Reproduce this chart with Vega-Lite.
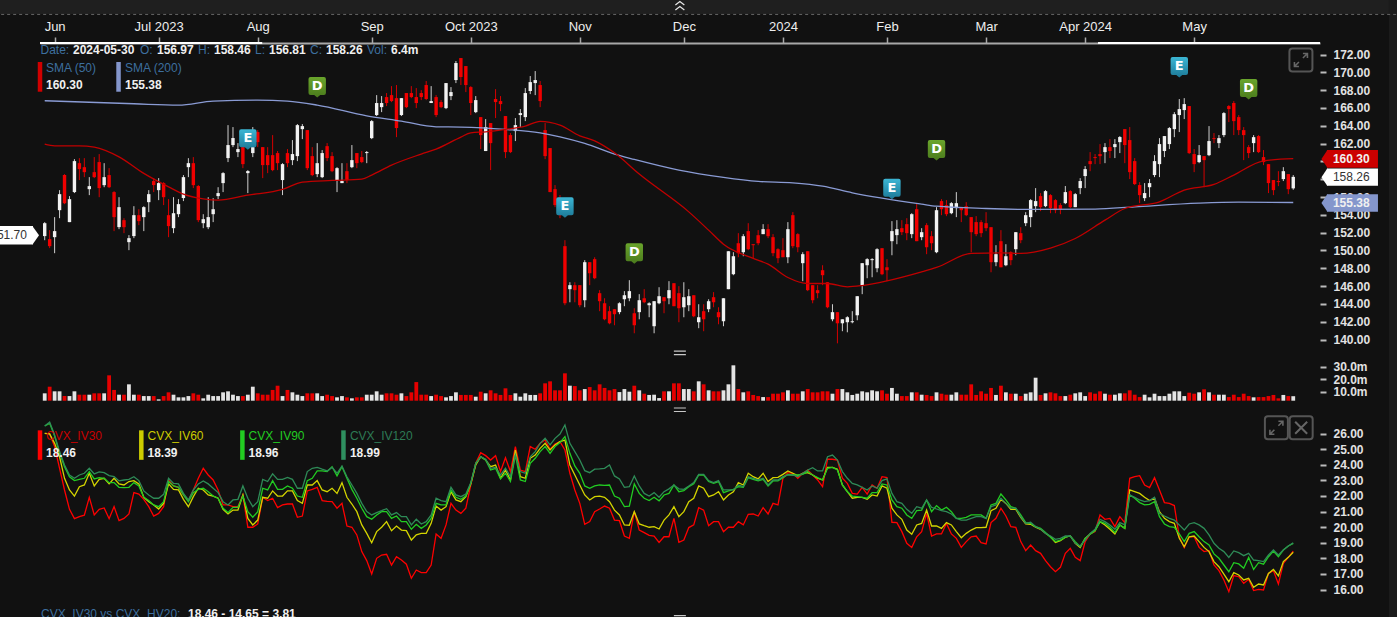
{"$schema":"https://vega.github.io/schema/vega-lite/v6.json","width":1397,"height":617,"padding":0,"autosize":{"type":"none"},"background":"#111111",
"config":{"view":{"stroke":null},"axis":{"grid":false,"title":null,"labelFont":"Liberation Sans"},"text":{"font":"Liberation Sans"}},
"data":{"name":"bars"},
"datasets":{"bars":[
{"i":0,"d":"2023-05-30","o":151.61,"h":153.18,"l":151.15,"c":153.06,"v":8.7,"iv30":26.01,"iv60":26.01,"iv90":26.48,"iv120":26.48},
{"i":1,"d":"2023-05-31","o":151.27,"h":152.28,"l":150.26,"c":150.48,"v":14,"iv30":25.97,"iv60":25.97,"iv90":26.65,"iv120":26.74},
{"i":2,"d":"2023-06-01","o":151.49,"h":153.74,"l":149.69,"c":152.17,"v":10.3,"iv30":25.16,"iv60":25.37,"iv90":25.84,"iv120":25.91},
{"i":3,"d":"2023-06-02","o":154.52,"h":156.77,"l":153.62,"c":156.32,"v":10.3,"iv30":23.77,"iv60":24.51,"iv90":24.73,"iv120":24.84},
{"i":4,"d":"2023-06-05","o":158.46,"h":158.57,"l":155.2,"c":155.31,"v":6.5,"iv30":22.38,"iv60":23.13,"iv90":23.87,"iv120":23.98},
{"i":5,"d":"2023-06-06","o":153.18,"h":156.1,"l":153.18,"c":155.76,"v":6.5,"iv30":21.14,"iv60":22.38,"iv90":23.23,"iv120":23.34},
{"i":6,"d":"2023-06-07","o":156.55,"h":160.25,"l":156.44,"c":160.03,"v":10.3,"iv30":20.54,"iv60":21.99,"iv90":22.98,"iv120":23.13},
{"i":7,"d":"2023-06-08","o":159.8,"h":160.36,"l":157.9,"c":159.13,"v":7.6,"iv30":20.67,"iv60":22.59,"iv90":23.06,"iv120":23.34},
{"i":8,"d":"2023-06-09","o":159.35,"h":160.36,"l":158.23,"c":158.79,"v":7.6,"iv30":20.76,"iv60":22.7,"iv90":23.13,"iv120":23.45},
{"i":9,"d":"2023-06-12","o":156.88,"h":158.23,"l":156.21,"c":157.22,"v":7.6,"iv30":21.91,"iv60":23.45,"iv90":23.56,"iv120":23.77},
{"i":10,"d":"2023-06-13","o":158.79,"h":160.48,"l":158.12,"c":158.23,"v":8.7,"iv30":20.78,"iv60":22.64,"iv90":23.09,"iv120":23.41},
{"i":11,"d":"2023-06-14","o":159.92,"h":160.82,"l":155.98,"c":157,"v":8.7,"iv30":21.14,"iv60":23.06,"iv90":23.17,"iv120":23.54},
{"i":12,"d":"2023-06-15","o":157.33,"h":159.8,"l":157.1,"c":158.23,"v":8.7,"iv30":21.23,"iv60":23.13,"iv90":23.13,"iv120":23.49},
{"i":13,"d":"2023-06-16","o":158.46,"h":159.24,"l":157,"c":157.1,"v":23.1,"iv30":20.54,"iv60":22.77,"iv90":22.85,"iv120":23.3},
{"i":14,"d":"2023-06-20","o":156.55,"h":156.66,"l":152.17,"c":153.74,"v":11.4,"iv30":21.31,"iv60":23.13,"iv90":22.85,"iv120":23.23},
{"i":15,"d":"2023-06-21","o":152.62,"h":155.98,"l":152.39,"c":154.86,"v":7.6,"iv30":20.41,"iv60":22.77,"iv90":22.55,"iv120":22.96},
{"i":16,"d":"2023-06-22","o":153.4,"h":153.62,"l":151.94,"c":152.61,"v":7.6,"iv30":20.56,"iv60":22.7,"iv90":22.53,"iv120":23.02},
{"i":17,"d":"2023-06-23","o":150.93,"h":151.72,"l":150.03,"c":151.38,"v":15.9,"iv30":20.84,"iv60":22.92,"iv90":22.55,"iv120":23.06},
{"i":18,"d":"2023-06-26","o":151.61,"h":154.97,"l":151.38,"c":153.96,"v":7.6,"iv30":22.21,"iv60":22.98,"iv90":22.85,"iv120":23.23},
{"i":19,"d":"2023-06-27","o":153.96,"h":154.63,"l":152.84,"c":153.29,"v":7.6,"iv30":22.12,"iv60":22.77,"iv90":22.64,"iv120":22.98},
{"i":20,"d":"2023-06-28","o":153.74,"h":154.97,"l":152.17,"c":154.86,"v":6.5,"iv30":21.78,"iv60":21.91,"iv90":21.91,"iv120":22.32},
{"i":21,"d":"2023-06-29","o":155.42,"h":156.77,"l":154.3,"c":156.32,"v":6.5,"iv30":21.31,"iv60":21.63,"iv90":21.7,"iv120":22.06},
{"i":22,"d":"2023-06-30","o":157.79,"h":158.12,"l":156.55,"c":157.34,"v":6.5,"iv30":20.71,"iv60":21.42,"iv90":21.42,"iv120":21.85},
{"i":23,"d":"2023-07-03","o":156.77,"h":158.12,"l":155.65,"c":157.56,"v":3.9,"iv30":20.88,"iv60":21.16,"iv90":21.31,"iv120":21.85},
{"i":24,"d":"2023-07-05","o":157.56,"h":157.67,"l":155.09,"c":155.98,"v":6.5,"iv30":21.31,"iv60":21.52,"iv90":21.63,"iv120":22.1},
{"i":25,"d":"2023-07-06","o":153.96,"h":155.76,"l":151.49,"c":152.73,"v":9.5,"iv30":23.02,"iv60":22.77,"iv90":22.92,"iv120":23.13},
{"i":26,"d":"2023-07-07","o":152.5,"h":155.98,"l":151.94,"c":154.18,"v":7.6,"iv30":22.64,"iv60":22.42,"iv90":22.64,"iv120":22.8},
{"i":27,"d":"2023-07-10","o":154.07,"h":155.76,"l":153.74,"c":155.2,"v":5.5,"iv30":22.55,"iv60":22.38,"iv90":22.55,"iv120":22.77},
{"i":28,"d":"2023-07-11","o":155.88,"h":158.46,"l":155.54,"c":158.23,"v":5.5,"iv30":22.06,"iv60":21.78,"iv90":22.06,"iv120":22.16},
{"i":29,"d":"2023-07-12","o":159.35,"h":160.36,"l":158.23,"c":159.8,"v":6.5,"iv30":21.7,"iv60":21.31,"iv90":21.63,"iv120":21.74},
{"i":30,"d":"2023-07-13","o":159.8,"h":160.48,"l":157,"c":157.33,"v":8.7,"iv30":22.38,"iv60":21.95,"iv90":22.21,"iv120":22.38},
{"i":31,"d":"2023-07-14","o":157.23,"h":157.34,"l":153.18,"c":153.4,"v":7.6,"iv30":23.13,"iv60":22.49,"iv90":22.42,"iv120":22.77},
{"i":32,"d":"2023-07-17","o":153.06,"h":154.07,"l":152.5,"c":153.51,"v":4.7,"iv30":23.77,"iv60":22.38,"iv90":22.49,"iv120":22.96},
{"i":33,"d":"2023-07-18","o":152.61,"h":155.98,"l":152.39,"c":153.74,"v":7.6,"iv30":23.34,"iv60":22.06,"iv90":22.27,"iv120":22.77},
{"i":34,"d":"2023-07-19","o":154.07,"h":155.87,"l":153.18,"c":154.63,"v":6.5,"iv30":23.02,"iv60":21.99,"iv90":21.99,"iv120":22.49},
{"i":35,"d":"2023-07-20","o":156.1,"h":157.1,"l":155.76,"c":156.44,"v":6.5,"iv30":22.38,"iv60":21.85,"iv90":21.85,"iv120":22.21},
{"i":36,"d":"2023-07-21","o":157.56,"h":158.79,"l":156.55,"c":158.68,"v":9.5,"iv30":21.42,"iv60":21.14,"iv90":21.21,"iv120":21.63},
{"i":37,"d":"2023-07-24","o":160.37,"h":164.07,"l":159.92,"c":161.83,"v":10.3,"iv30":21.42,"iv60":20.84,"iv90":20.93,"iv120":21.42},
{"i":38,"d":"2023-07-25","o":161.83,"h":163.85,"l":161.6,"c":162.62,"v":7.6,"iv30":21.31,"iv60":21.09,"iv90":21.27,"iv120":21.74},
{"i":39,"d":"2023-07-26","o":161.04,"h":162.05,"l":160.48,"c":161.38,"v":6.5,"iv30":21.31,"iv60":21.09,"iv90":21.27,"iv120":21.78},
{"i":40,"d":"2023-07-27","o":161.6,"h":161.83,"l":159.24,"c":159.69,"v":6.5,"iv30":22.06,"iv60":22.06,"iv90":21.99,"iv120":22.64},
{"i":41,"d":"2023-07-28","o":158.68,"h":159.02,"l":156.44,"c":158.91,"v":7.6,"iv30":19.99,"iv60":20.56,"iv90":20.99,"iv120":21.85},
{"i":42,"d":"2023-07-31","o":160.93,"h":163.85,"l":160.48,"c":161.6,"v":14,"iv30":19.99,"iv60":20.14,"iv90":20.63,"iv120":21.31},
{"i":43,"d":"2023-08-01","o":163.29,"h":163.51,"l":161.6,"c":162.16,"v":8.7,"iv30":20.2,"iv60":20.45,"iv90":20.99,"iv120":21.63},
{"i":44,"d":"2023-08-02","o":161.6,"h":161.6,"l":158.12,"c":159.58,"v":7.6,"iv30":21.91,"iv60":21.91,"iv90":22.49,"iv120":23.06},
{"i":45,"d":"2023-08-03","o":160.7,"h":161.6,"l":158.68,"c":159.58,"v":7.6,"iv30":21.7,"iv60":21.85,"iv90":22.38,"iv120":22.92},
{"i":46,"d":"2023-08-04","o":160.7,"h":162.95,"l":158.9,"c":159.02,"v":11.4,"iv30":21.85,"iv60":22.32,"iv90":22.98,"iv120":23.41},
{"i":47,"d":"2023-08-07","o":160.93,"h":161.16,"l":159.02,"c":159.8,"v":14.8,"iv30":21.25,"iv60":21.99,"iv90":22.42,"iv120":23.06},
{"i":48,"d":"2023-08-08","o":157.9,"h":159.8,"l":156.21,"c":159.69,"v":6.5,"iv30":21.42,"iv60":21.99,"iv90":22.42,"iv120":23.06},
{"i":49,"d":"2023-08-09","o":160.93,"h":161.38,"l":159.35,"c":159.8,"v":11.4,"iv30":21.48,"iv60":22.32,"iv90":22.64,"iv120":23.19},
{"i":50,"d":"2023-08-10","o":160.14,"h":162.39,"l":159.58,"c":160.82,"v":9.5,"iv30":21.48,"iv60":22.32,"iv90":22.49,"iv120":23.06},
{"i":51,"d":"2023-08-11","o":160.59,"h":164.19,"l":160.03,"c":164.07,"v":7.6,"iv30":20.63,"iv60":21.7,"iv90":21.99,"iv120":22.49},
{"i":52,"d":"2023-08-14","o":163.62,"h":164.19,"l":162.5,"c":163.96,"v":6.5,"iv30":20.71,"iv60":21.52,"iv90":21.91,"iv120":22.49},
{"i":53,"d":"2023-08-15","o":163.51,"h":163.51,"l":159.02,"c":159.24,"v":8.7,"iv30":22.32,"iv60":22.7,"iv90":22.98,"iv120":23.56},
{"i":54,"d":"2023-08-16","o":160.59,"h":161.6,"l":158.34,"c":158.46,"v":8.7,"iv30":22.42,"iv60":22.7,"iv90":23.13,"iv120":23.77},
{"i":55,"d":"2023-08-17","o":158.57,"h":162.05,"l":158.23,"c":159.8,"v":8.7,"iv30":22.55,"iv60":22.98,"iv90":23.6,"iv120":23.83},
{"i":56,"d":"2023-08-18","o":158.23,"h":161.27,"l":158.12,"c":160.93,"v":6.5,"iv30":21.7,"iv60":22.38,"iv90":23.6,"iv120":23.71},
{"i":57,"d":"2023-08-21","o":161.71,"h":162.05,"l":160.03,"c":160.37,"v":7.6,"iv30":21.65,"iv60":22.27,"iv90":23.56,"iv120":23.6},
{"i":58,"d":"2023-08-22","o":160.59,"h":161.04,"l":158.79,"c":158.9,"v":6.5,"iv30":21.63,"iv60":22.49,"iv90":23.87,"iv120":23.83},
{"i":59,"d":"2023-08-23","o":157.9,"h":159.35,"l":156.55,"c":159.24,"v":5.5,"iv30":21.21,"iv60":22.16,"iv90":23.28,"iv120":23.45},
{"i":60,"d":"2023-08-24","o":157.56,"h":159.8,"l":157.56,"c":157.79,"v":6.5,"iv30":21.52,"iv60":22.85,"iv90":23.87,"iv120":23.92},
{"i":61,"d":"2023-08-25","o":158.9,"h":159.8,"l":157.56,"c":157.9,"v":5.5,"iv30":20.07,"iv60":21.91,"iv90":23.13,"iv120":23.23},
{"i":62,"d":"2023-08-28","o":159.35,"h":161.83,"l":159.24,"c":160.14,"v":4.7,"iv30":19.99,"iv60":21.48,"iv90":22.42,"iv120":22.7},
{"i":63,"d":"2023-08-29","o":160.93,"h":160.93,"l":159.24,"c":159.8,"v":5.5,"iv30":19.5,"iv60":20.99,"iv90":21.85,"iv120":22.16},
{"i":64,"d":"2023-08-30","o":160.48,"h":161.16,"l":159.8,"c":159.92,"v":5.5,"iv30":18.43,"iv60":20.14,"iv90":21.21,"iv120":21.52},
{"i":65,"d":"2023-08-31","o":160.93,"h":161.16,"l":159.8,"c":161.04,"v":7.6,"iv30":17.85,"iv60":19.6,"iv90":20.67,"iv120":20.99},
{"i":66,"d":"2023-09-01","o":162.61,"h":164.64,"l":162.5,"c":164.52,"v":7.6,"iv30":16.99,"iv60":19,"iv90":20.5,"iv120":20.78},
{"i":67,"d":"2023-09-05","o":165.2,"h":167.44,"l":165.09,"c":166.55,"v":10.3,"iv30":18,"iv60":19.71,"iv90":20.78,"iv120":20.93},
{"i":68,"d":"2023-09-06","o":166.09,"h":167.33,"l":165.53,"c":166.55,"v":7.6,"iv30":18.21,"iv60":19.99,"iv90":20.99,"iv120":21.05},
{"i":69,"d":"2023-09-07","o":167.22,"h":167.67,"l":166.21,"c":166.55,"v":8.7,"iv30":18.26,"iv60":20.35,"iv90":20.99,"iv120":21.18},
{"i":70,"d":"2023-09-08","o":167.44,"h":168.45,"l":166.65,"c":166.77,"v":8.7,"iv30":17.57,"iv60":19.77,"iv90":20.56,"iv120":20.78},
{"i":71,"d":"2023-09-11","o":167.1,"h":168.57,"l":162.72,"c":163.74,"v":7.6,"iv30":18.1,"iv60":20.07,"iv90":20.71,"iv120":20.93},
{"i":72,"d":"2023-09-12","o":165.2,"h":167.1,"l":165.09,"c":167.1,"v":8.7,"iv30":17.89,"iv60":19.81,"iv90":20.35,"iv120":20.67},
{"i":73,"d":"2023-09-13","o":167.67,"h":167.67,"l":165.98,"c":166.09,"v":6.5,"iv30":17.62,"iv60":19.77,"iv90":20.35,"iv120":20.67},
{"i":74,"d":"2023-09-14","o":167.67,"h":168.45,"l":167.1,"c":167.22,"v":9.5,"iv30":16.72,"iv60":19.17,"iv90":19.86,"iv120":20.14},
{"i":75,"d":"2023-09-15","o":167.22,"h":168.23,"l":165.98,"c":166.55,"v":17.7,"iv30":17.25,"iv60":19.5,"iv90":20.18,"iv120":20.5},
{"i":76,"d":"2023-09-18","o":167.67,"h":168,"l":166.88,"c":167.22,"v":7.6,"iv30":17.08,"iv60":19.6,"iv90":19.92,"iv120":20.2},
{"i":77,"d":"2023-09-19","o":168.57,"h":169.02,"l":166.88,"c":167,"v":7.6,"iv30":17.08,"iv60":19.6,"iv90":20.14,"iv120":20.35},
{"i":78,"d":"2023-09-20","o":166.55,"h":168.45,"l":166.55,"c":166.77,"v":6.5,"iv30":17.57,"iv60":20.24,"iv90":20.56,"iv120":20.78},
{"i":79,"d":"2023-09-21","o":167.22,"h":167.44,"l":164.97,"c":165.2,"v":7.6,"iv30":19.56,"iv60":21.35,"iv90":21.52,"iv120":21.85},
{"i":80,"d":"2023-09-22","o":166.66,"h":166.88,"l":165.98,"c":166.09,"v":6.5,"iv30":19.28,"iv60":21.09,"iv90":21.42,"iv120":21.7},
{"i":81,"d":"2023-09-25","o":165.98,"h":168.79,"l":165.87,"c":168.79,"v":5.5,"iv30":20.14,"iv60":21.31,"iv90":21.42,"iv120":21.63},
{"i":82,"d":"2023-09-26","o":167.33,"h":168.34,"l":166.88,"c":167.78,"v":6.5,"iv30":21.52,"iv60":22.27,"iv90":22.38,"iv120":22.55},
{"i":83,"d":"2023-09-27","o":169.13,"h":171.27,"l":168.79,"c":171.04,"v":9.5,"iv30":21.09,"iv60":21.74,"iv90":21.91,"iv120":22.06},
{"i":84,"d":"2023-09-28","o":171.6,"h":171.6,"l":168.57,"c":169.47,"v":7.4,"iv30":20.88,"iv60":21.63,"iv90":21.78,"iv120":21.95},
{"i":85,"d":"2023-09-29","o":170.7,"h":170.7,"l":167.78,"c":168.57,"v":7.4,"iv30":21.21,"iv60":21.95,"iv90":21.99,"iv120":22.12},
{"i":86,"d":"2023-10-02","o":168.34,"h":168.45,"l":165.2,"c":166.55,"v":7.4,"iv30":22.7,"iv60":22.77,"iv90":22.8,"iv120":22.85},
{"i":87,"d":"2023-10-03","o":165.53,"h":167.33,"l":165.42,"c":166.88,"v":6,"iv30":24.09,"iv60":23.98,"iv90":24.09,"iv120":24.09},
{"i":88,"d":"2023-10-04","o":164.97,"h":164.97,"l":161.38,"c":162.95,"v":10,"iv30":24.77,"iv60":24.51,"iv90":24.51,"iv120":24.51},
{"i":89,"d":"2023-10-05","o":161.16,"h":164.75,"l":161.16,"c":163.85,"v":8.7,"iv30":24.58,"iv60":24.3,"iv90":24.3,"iv120":24.35},
{"i":90,"d":"2023-10-06","o":164.3,"h":164.3,"l":159.02,"c":162.05,"v":11.1,"iv30":24.3,"iv60":23.87,"iv90":23.66,"iv120":23.77},
{"i":91,"d":"2023-10-09","o":167,"h":168.11,"l":164.86,"c":166.66,"v":8.7,"iv30":24.58,"iv60":23.98,"iv90":23.77,"iv120":23.83},
{"i":92,"d":"2023-10-10","o":166.77,"h":167.33,"l":165.64,"c":166.43,"v":7.4,"iv30":23.56,"iv60":23.13,"iv90":23.09,"iv120":23.34},
{"i":93,"d":"2023-10-11","o":165.09,"h":165.09,"l":160.37,"c":161.04,"v":12.7,"iv30":24.45,"iv60":23.66,"iv90":23.45,"iv120":23.77},
{"i":94,"d":"2023-10-12","o":162.95,"h":163.18,"l":160.93,"c":161.04,"v":7.4,"iv30":23.56,"iv60":23.02,"iv90":22.92,"iv120":23.23},
{"i":95,"d":"2023-10-13","o":163.4,"h":164.86,"l":162.28,"c":164.07,"v":8.7,"iv30":25.16,"iv60":24.94,"iv90":24.62,"iv120":24.62},
{"i":96,"d":"2023-10-16","o":165.2,"h":165.87,"l":163.85,"c":165.42,"v":6,"iv30":23.66,"iv60":23.23,"iv90":23.02,"iv120":23.56},
{"i":97,"d":"2023-10-17","o":164.97,"h":168.23,"l":164.52,"c":167.67,"v":8.7,"iv30":23.56,"iv60":23.13,"iv90":22.92,"iv120":23.45},
{"i":98,"d":"2023-10-18","o":167.9,"h":169.58,"l":167.55,"c":168.9,"v":7.4,"iv30":25.16,"iv60":24.41,"iv90":24.09,"iv120":24.51},
{"i":99,"d":"2023-10-19","o":168.79,"h":170.14,"l":167.44,"c":169.13,"v":7.4,"iv30":24.99,"iv60":24.62,"iv90":24.41,"iv120":24.84},
{"i":100,"d":"2023-10-20","o":168.57,"h":169.02,"l":166.09,"c":166.77,"v":8.7,"iv30":25.37,"iv60":25.05,"iv90":24.84,"iv120":25.37},
{"i":101,"d":"2023-10-23","o":163.51,"h":164.3,"l":160.25,"c":160.59,"v":16.7,"iv30":25.58,"iv60":25.37,"iv90":25.16,"iv120":25.69},
{"i":102,"d":"2023-10-24","o":161.49,"h":161.49,"l":156.55,"c":156.55,"v":18.3,"iv30":24.99,"iv60":24.94,"iv90":24.73,"iv120":25.27},
{"i":103,"d":"2023-10-25","o":156.88,"h":157.34,"l":154.86,"c":155.09,"v":11.1,"iv30":25.33,"iv60":25.27,"iv90":25.16,"iv120":25.69},
{"i":104,"d":"2023-10-26","o":155.65,"h":156.21,"l":153.62,"c":153.96,"v":11.1,"iv30":25.48,"iv60":25.48,"iv90":25.42,"iv120":25.97},
{"i":105,"d":"2023-10-27","o":150.48,"h":151.15,"l":143.85,"c":144.07,"v":24.7,"iv30":24.94,"iv60":25.58,"iv90":25.8,"iv120":26.55},
{"i":106,"d":"2023-10-30","o":145.65,"h":146.43,"l":144.18,"c":146.1,"v":14.8,"iv30":23.45,"iv60":23.98,"iv90":24.73,"iv120":25.37},
{"i":107,"d":"2023-10-31","o":146.1,"h":146.43,"l":144.18,"c":145.54,"v":14.5,"iv30":22.38,"iv60":23.34,"iv90":23.92,"iv120":24.84},
{"i":108,"d":"2023-11-01","o":146.1,"h":146.1,"l":143.62,"c":143.85,"v":11.1,"iv30":21.52,"iv60":22.7,"iv90":23.45,"iv120":24.3},
{"i":109,"d":"2023-11-02","o":144.41,"h":148.91,"l":143.62,"c":148.68,"v":12.1,"iv30":20.18,"iv60":22.06,"iv90":22.64,"iv120":23.62},
{"i":110,"d":"2023-11-03","o":148.68,"h":148.68,"l":146.1,"c":147.44,"v":13.7,"iv30":20.35,"iv60":21.74,"iv90":22.49,"iv120":23.49},
{"i":111,"d":"2023-11-06","o":149.02,"h":149.24,"l":146.77,"c":146.88,"v":11.1,"iv30":20.99,"iv60":21.95,"iv90":22.64,"iv120":23.71},
{"i":112,"d":"2023-11-07","o":145.2,"h":145.54,"l":143.18,"c":144.3,"v":15.9,"iv30":21.16,"iv60":21.99,"iv90":22.7,"iv120":23.73},
{"i":113,"d":"2023-11-08","o":144.07,"h":144.63,"l":142.16,"c":142.27,"v":13,"iv30":21.35,"iv60":21.91,"iv90":22.68,"iv120":23.77},
{"i":114,"d":"2023-11-09","o":143.18,"h":143.74,"l":141.71,"c":141.82,"v":11.1,"iv30":21.21,"iv60":21.63,"iv90":22.7,"iv120":23.98},
{"i":115,"d":"2023-11-10","o":143.4,"h":143.4,"l":141.6,"c":142.84,"v":12.1,"iv30":20.45,"iv60":21.09,"iv90":21.99,"iv120":23.28},
{"i":116,"d":"2023-11-13","o":143.07,"h":144.18,"l":142.84,"c":144.07,"v":9.7,"iv30":20.41,"iv60":20.78,"iv90":21.85,"iv120":23.09},
{"i":117,"d":"2023-11-14","o":144.52,"h":145.43,"l":143.74,"c":144.97,"v":12.1,"iv30":19.43,"iv60":20.14,"iv90":21.31,"iv120":22.55},
{"i":118,"d":"2023-11-15","o":144.63,"h":146.66,"l":144.3,"c":145.43,"v":10,"iv30":19.28,"iv60":20.12,"iv90":21.35,"iv120":22.59},
{"i":119,"d":"2023-11-16","o":142.95,"h":143.51,"l":140.7,"c":141.6,"v":14.8,"iv30":20.99,"iv60":20.99,"iv90":22.77,"iv120":23.28},
{"i":120,"d":"2023-11-17","o":143.07,"h":145.09,"l":142.27,"c":144.41,"v":11.1,"iv30":19.81,"iv60":20.2,"iv90":22.16,"iv120":22.64},
{"i":121,"d":"2023-11-20","o":144.63,"h":145.65,"l":144.07,"c":144.18,"v":8.4,"iv30":19.65,"iv60":20.09,"iv90":21.85,"iv120":22.16},
{"i":122,"d":"2023-11-21","o":143.85,"h":144.18,"l":142.5,"c":144.07,"v":7.4,"iv30":19.47,"iv60":19.99,"iv90":21.7,"iv120":21.99},
{"i":123,"d":"2023-11-22","o":141.49,"h":144.3,"l":140.7,"c":144.3,"v":7.6,"iv30":19.43,"iv60":20.03,"iv90":21.91,"iv120":22.21},
{"i":124,"d":"2023-11-24","o":144.07,"h":145.87,"l":143.96,"c":144.86,"v":4.9,"iv30":19.02,"iv60":19.88,"iv90":21.68,"iv120":21.91},
{"i":125,"d":"2023-11-27","o":144.75,"h":144.75,"l":142.95,"c":144.3,"v":10.3,"iv30":19.38,"iv60":20.45,"iv90":22.06,"iv120":22.27},
{"i":126,"d":"2023-11-28","o":144.63,"h":146.55,"l":143.96,"c":145.54,"v":10.3,"iv30":19.38,"iv60":20.78,"iv90":22.16,"iv120":22.45},
{"i":127,"d":"2023-11-29","o":146.32,"h":146.32,"l":143.74,"c":143.74,"v":16.7,"iv30":20.56,"iv60":21.31,"iv90":22.7,"iv120":22.7},
{"i":128,"d":"2023-11-30","o":145.2,"h":145.99,"l":141.94,"c":143.51,"v":16.7,"iv30":19.02,"iv60":20.67,"iv90":22.27,"iv120":22.45},
{"i":129,"d":"2023-12-01","o":143.62,"h":146.43,"l":142.5,"c":144.75,"v":12.1,"iv30":19.17,"iv60":20.99,"iv90":22.34,"iv120":22.42},
{"i":130,"d":"2023-12-04","o":143.85,"h":145.65,"l":143.18,"c":144.86,"v":12.1,"iv30":19.97,"iv60":21.63,"iv90":22.59,"iv120":22.64},
{"i":131,"d":"2023-12-05","o":144.97,"h":144.97,"l":142.5,"c":142.61,"v":10.3,"iv30":20.14,"iv60":21.85,"iv90":22.77,"iv120":22.85},
{"i":132,"d":"2023-12-06","o":141.94,"h":143.96,"l":141.27,"c":142.5,"v":18.3,"iv30":21.25,"iv60":22.64,"iv90":23.34,"iv120":23.38},
{"i":133,"d":"2023-12-07","o":143.18,"h":143.96,"l":140.93,"c":142.27,"v":15.9,"iv30":21.09,"iv60":22.49,"iv90":23.34,"iv120":23.38},
{"i":134,"d":"2023-12-08","o":143.4,"h":144.52,"l":143.07,"c":144.3,"v":11.1,"iv30":20.09,"iv60":21.95,"iv90":22.92,"iv120":22.98},
{"i":135,"d":"2023-12-11","o":144.75,"h":145.32,"l":143.62,"c":144.18,"v":10.3,"iv30":20.35,"iv60":22.06,"iv90":22.8,"iv120":22.85},
{"i":136,"d":"2023-12-12","o":143.07,"h":143.62,"l":141.71,"c":142.5,"v":10.3,"iv30":20.35,"iv60":22.27,"iv90":22.92,"iv120":22.98},
{"i":137,"d":"2023-12-13","o":142.05,"h":144.63,"l":141.49,"c":144.63,"v":11.1,"iv30":19.71,"iv60":21.74,"iv90":22.21,"iv120":22.38},
{"i":138,"d":"2023-12-14","o":145.65,"h":149.91,"l":145.65,"c":149.91,"v":15.9,"iv30":19.99,"iv60":22.06,"iv90":22.32,"iv120":22.38},
{"i":139,"d":"2023-12-15","o":147.33,"h":149.8,"l":147.22,"c":149.35,"v":31.1,"iv30":19.99,"iv60":22.27,"iv90":22.42,"iv120":22.38},
{"i":140,"d":"2023-12-18","o":150.81,"h":151.94,"l":149.24,"c":149.69,"v":12.1,"iv30":20.35,"iv60":22.85,"iv90":22.59,"iv120":22.7},
{"i":141,"d":"2023-12-19","o":149.8,"h":151.83,"l":149.35,"c":151.6,"v":9.5,"iv30":20.14,"iv60":22.7,"iv90":22.55,"iv120":22.59},
{"i":142,"d":"2023-12-20","o":152.17,"h":153.06,"l":150.03,"c":150.14,"v":10.3,"iv30":20.82,"iv60":23.45,"iv90":23.17,"iv120":23.23},
{"i":143,"d":"2023-12-21","o":150.7,"h":150.7,"l":149.13,"c":150.59,"v":7.4,"iv30":20.84,"iv60":23.23,"iv90":23.06,"iv120":23.13},
{"i":144,"d":"2023-12-22","o":151.71,"h":152.28,"l":150.59,"c":150.81,"v":6.5,"iv30":20.71,"iv60":23.09,"iv90":22.96,"iv120":23.02},
{"i":145,"d":"2023-12-26","o":151.83,"h":152.95,"l":151.83,"c":152.39,"v":5.7,"iv30":21.25,"iv60":23.45,"iv90":23.06,"iv120":23.13},
{"i":146,"d":"2023-12-27","o":152.39,"h":152.95,"l":151.38,"c":151.6,"v":5.7,"iv30":20.84,"iv60":22.92,"iv90":22.64,"iv120":22.7},
{"i":147,"d":"2023-12-28","o":151.49,"h":151.83,"l":149.35,"c":149.69,"v":8.4,"iv30":21.52,"iv60":23.17,"iv90":22.96,"iv120":23.02},
{"i":148,"d":"2023-12-29","o":150.14,"h":150.25,"l":148.57,"c":149.13,"v":8.4,"iv30":21.42,"iv60":23.19,"iv90":22.96,"iv120":23.02},
{"i":149,"d":"2024-01-02","o":150.03,"h":151.38,"l":149.24,"c":149.24,"v":9.5,"iv30":23.13,"iv60":23.38,"iv90":23.17,"iv120":23.23},
{"i":150,"d":"2024-01-03","o":149.24,"h":153.18,"l":148.57,"c":152.39,"v":11.1,"iv30":23.49,"iv60":23.6,"iv90":23.38,"iv120":23.34},
{"i":151,"d":"2024-01-04","o":153.96,"h":154.3,"l":150.25,"c":150.48,"v":8.4,"iv30":23.45,"iv60":23.45,"iv90":23.34,"iv120":23.34},
{"i":152,"d":"2024-01-05","o":151.83,"h":151.94,"l":149.8,"c":150.36,"v":8.4,"iv30":23.13,"iv60":23.3,"iv90":23.34,"iv120":23.23},
{"i":153,"d":"2024-01-08","o":148.57,"h":149.8,"l":146.55,"c":149.58,"v":10.3,"iv30":23.45,"iv60":23.45,"iv90":23.38,"iv120":23.45},
{"i":154,"d":"2024-01-09","o":149.91,"h":149.91,"l":145.43,"c":145.54,"v":12.1,"iv30":23.66,"iv60":23.49,"iv90":23.56,"iv120":23.66},
{"i":155,"d":"2024-01-10","o":146.1,"h":146.1,"l":144.07,"c":144.41,"v":9.5,"iv30":23.34,"iv60":23.34,"iv90":23.34,"iv120":23.81},
{"i":156,"d":"2024-01-11","o":145.54,"h":146.1,"l":144.63,"c":145.2,"v":9.5,"iv30":23.02,"iv60":23.13,"iv90":23.17,"iv120":23.6},
{"i":157,"d":"2024-01-12","o":147.78,"h":148.34,"l":146.1,"c":147.22,"v":10.3,"iv30":22.59,"iv60":23.02,"iv90":23.02,"iv120":23.6},
{"i":158,"d":"2024-01-16","o":146.43,"h":146.43,"l":143.51,"c":143.62,"v":10.3,"iv30":24.35,"iv60":23.83,"iv90":23.77,"iv120":24.51},
{"i":159,"d":"2024-01-17","o":142.27,"h":143.96,"l":142.05,"c":143.07,"v":8.4,"iv30":24.35,"iv60":23.83,"iv90":23.83,"iv120":24.62},
{"i":160,"d":"2024-01-18","o":143.07,"h":143.07,"l":139.57,"c":141.82,"v":12.1,"iv30":24.3,"iv60":23.71,"iv90":23.66,"iv120":24.3},
{"i":161,"d":"2024-01-19","o":141.82,"h":142.27,"l":140.93,"c":142.27,"v":12.1,"iv30":23.13,"iv60":22.7,"iv90":22.7,"iv120":23.56},
{"i":162,"d":"2024-01-22","o":141.94,"h":142.61,"l":140.81,"c":142.5,"v":9.5,"iv30":22.8,"iv60":22.27,"iv90":22.27,"iv120":23.13},
{"i":163,"d":"2024-01-23","o":141.94,"h":143.18,"l":141.82,"c":142.05,"v":7.4,"iv30":22.16,"iv60":21.85,"iv90":21.99,"iv120":22.8},
{"i":164,"d":"2024-01-24","o":142.72,"h":144.86,"l":142.16,"c":144.86,"v":8.4,"iv30":22.12,"iv60":21.91,"iv90":21.95,"iv120":22.7},
{"i":165,"d":"2024-01-25","o":146.1,"h":148.57,"l":145.09,"c":148.57,"v":10.3,"iv30":22.55,"iv60":21.91,"iv90":21.91,"iv120":22.55},
{"i":166,"d":"2024-01-26","o":148.34,"h":149.13,"l":146.88,"c":149.02,"v":9.5,"iv30":22.12,"iv60":21.78,"iv90":21.85,"iv120":22.38},
{"i":167,"d":"2024-01-29","o":148.91,"h":149.13,"l":146.99,"c":149.02,"v":11.1,"iv30":22.7,"iv60":22.06,"iv90":22.21,"iv120":22.64},
{"i":168,"d":"2024-01-30","o":148,"h":150.25,"l":147.55,"c":150.14,"v":10.3,"iv30":22.49,"iv60":21.99,"iv90":22.21,"iv120":22.49},
{"i":169,"d":"2024-01-31","o":150.25,"h":150.25,"l":147.22,"c":147.33,"v":11.1,"iv30":23.23,"iv60":22.64,"iv90":22.77,"iv120":22.98},
{"i":170,"d":"2024-02-01","o":148.11,"h":149.02,"l":146.55,"c":147.78,"v":8.4,"iv30":23.17,"iv60":22.49,"iv90":22.7,"iv120":23.09},
{"i":171,"d":"2024-02-02","o":151.04,"h":153.29,"l":149.46,"c":152.17,"v":13,"iv30":20.31,"iv60":21.21,"iv90":21.74,"iv120":22.16},
{"i":172,"d":"2024-02-05","o":151.72,"h":153.4,"l":150.7,"c":152.39,"v":8.4,"iv30":20.29,"iv60":20.78,"iv90":21.31,"iv120":21.63},
{"i":173,"d":"2024-02-06","o":152.5,"h":153.4,"l":151.72,"c":152.05,"v":6.5,"iv30":19.71,"iv60":20.5,"iv90":21.21,"iv120":21.52},
{"i":174,"d":"2024-02-07","o":152.95,"h":153.62,"l":151.15,"c":151.94,"v":6.5,"iv30":18.96,"iv60":19.81,"iv90":20.78,"iv120":21.14},
{"i":175,"d":"2024-02-08","o":151.83,"h":154.18,"l":151.38,"c":154.07,"v":9.5,"iv30":18.7,"iv60":19.54,"iv90":20.56,"iv120":20.88},
{"i":176,"d":"2024-02-09","o":154.63,"h":155.31,"l":151.04,"c":151.04,"v":9.5,"iv30":19.38,"iv60":20.14,"iv90":21.05,"iv120":21.31},
{"i":177,"d":"2024-02-12","o":151.49,"h":152.5,"l":151.15,"c":152.05,"v":7.6,"iv30":19.71,"iv60":20.24,"iv90":21.09,"iv120":21.21},
{"i":178,"d":"2024-02-13","o":152.84,"h":153.06,"l":149.58,"c":150.36,"v":7.4,"iv30":20.88,"iv60":21.09,"iv90":21.74,"iv120":21.74},
{"i":179,"d":"2024-02-14","o":151.6,"h":152.17,"l":150.03,"c":150.81,"v":6.5,"iv30":19.43,"iv60":20.07,"iv90":20.99,"iv120":21.27},
{"i":180,"d":"2024-02-15","o":149.8,"h":154.86,"l":149.69,"c":154.52,"v":9.5,"iv30":19.56,"iv60":20.07,"iv90":21.38,"iv120":21.16},
{"i":181,"d":"2024-02-16","o":155.54,"h":155.76,"l":153.96,"c":154.63,"v":8.4,"iv30":19.56,"iv60":19.92,"iv90":21.09,"iv120":21.05},
{"i":182,"d":"2024-02-20","o":155.09,"h":155.65,"l":153.85,"c":154.07,"v":7.6,"iv30":20.24,"iv60":20.29,"iv90":21.27,"iv120":20.99},
{"i":183,"d":"2024-02-21","o":154.18,"h":155.42,"l":154.07,"c":155.31,"v":7.6,"iv30":19.56,"iv60":20.14,"iv90":20.99,"iv120":20.84},
{"i":184,"d":"2024-02-22","o":154.75,"h":156.55,"l":153.74,"c":155.31,"v":9.5,"iv30":19.28,"iv60":19.71,"iv90":20.56,"iv120":20.56},
{"i":185,"d":"2024-02-23","o":154.86,"h":154.86,"l":153.18,"c":154.52,"v":7.6,"iv30":18.7,"iv60":19.32,"iv90":20.56,"iv120":20.45},
{"i":186,"d":"2024-02-26","o":154.97,"h":155.42,"l":153.85,"c":153.96,"v":7.6,"iv30":19.07,"iv60":19.6,"iv90":20.63,"iv120":20.45},
{"i":187,"d":"2024-02-27","o":153.74,"h":153.74,"l":149.8,"c":152.05,"v":15.9,"iv30":19.38,"iv60":19.81,"iv90":20.78,"iv120":20.56},
{"i":188,"d":"2024-02-28","o":153.18,"h":153.85,"l":151.6,"c":151.83,"v":7.4,"iv30":19.43,"iv60":19.97,"iv90":20.78,"iv120":20.67},
{"i":189,"d":"2024-02-29","o":153.18,"h":153.4,"l":151.49,"c":151.94,"v":10.3,"iv30":19,"iv60":19.97,"iv90":20.78,"iv120":20.67},
{"i":190,"d":"2024-03-01","o":153.06,"h":154.3,"l":152.17,"c":152.5,"v":8.4,"iv30":18.92,"iv60":19.99,"iv90":20.56,"iv120":20.56},
{"i":191,"d":"2024-03-04","o":152.61,"h":152.61,"l":147.55,"c":148.68,"v":13,"iv30":20.29,"iv60":21.05,"iv90":21.42,"iv120":21.31},
{"i":192,"d":"2024-03-05","o":148.68,"h":150.59,"l":148.23,"c":149.58,"v":7.4,"iv30":20.56,"iv60":21.21,"iv90":21.52,"iv120":21.42},
{"i":193,"d":"2024-03-06","o":151.04,"h":152.28,"l":148.11,"c":148.11,"v":14.8,"iv30":21.21,"iv60":21.78,"iv90":22.12,"iv120":21.85},
{"i":194,"d":"2024-03-07","o":148.34,"h":150.7,"l":148.23,"c":149.35,"v":9.5,"iv30":20.71,"iv60":21.52,"iv90":21.74,"iv120":21.52},
{"i":195,"d":"2024-03-08","o":149.8,"h":149.91,"l":148.34,"c":148.91,"v":8.4,"iv30":20.03,"iv60":21.14,"iv90":21.31,"iv120":21.21},
{"i":196,"d":"2024-03-11","o":150.14,"h":152.05,"l":149.46,"c":152.05,"v":8.4,"iv30":19.99,"iv60":21.14,"iv90":21.21,"iv120":21.21},
{"i":197,"d":"2024-03-12","o":151.94,"h":152.61,"l":150.81,"c":151.15,"v":6.5,"iv30":19.07,"iv60":20.63,"iv90":20.78,"iv120":20.67},
{"i":198,"d":"2024-03-13","o":153.06,"h":154.3,"l":152.73,"c":153.96,"v":8.4,"iv30":18.49,"iv60":20.2,"iv90":20.29,"iv120":20.24},
{"i":199,"d":"2024-03-14","o":153.74,"h":155.76,"l":152.61,"c":155.65,"v":9.5,"iv30":18.85,"iv60":20.18,"iv90":20.24,"iv120":20.31},
{"i":200,"d":"2024-03-15","o":154.97,"h":157,"l":154.3,"c":155.54,"v":21.2,"iv30":18.49,"iv60":19.99,"iv90":20.03,"iv120":20.03},
{"i":201,"d":"2024-03-18","o":156.1,"h":156.44,"l":154.41,"c":154.86,"v":7.4,"iv30":18.32,"iv60":19.86,"iv90":19.92,"iv120":19.88},
{"i":202,"d":"2024-03-19","o":154.97,"h":156.77,"l":154.86,"c":156.66,"v":8.7,"iv30":17.85,"iv60":19.6,"iv90":19.65,"iv120":19.6},
{"i":203,"d":"2024-03-20","o":156.21,"h":156.32,"l":154.18,"c":154.75,"v":9.5,"iv30":17.46,"iv60":19.38,"iv90":19.35,"iv120":19.43},
{"i":204,"d":"2024-03-21","o":155.65,"h":155.76,"l":154.18,"c":154.52,"v":8.7,"iv30":17.14,"iv60":19.02,"iv90":19.07,"iv120":19.22},
{"i":205,"d":"2024-03-22","o":155.09,"h":155.31,"l":154.07,"c":154.63,"v":6.5,"iv30":17.42,"iv60":19.13,"iv90":19.17,"iv120":19.28},
{"i":206,"d":"2024-03-25","o":155.31,"h":157.23,"l":155.2,"c":156.55,"v":6.5,"iv30":18.32,"iv60":19.35,"iv90":19.35,"iv120":19.43},
{"i":207,"d":"2024-03-26","o":156.66,"h":156.77,"l":154.75,"c":154.86,"v":7.6,"iv30":18.64,"iv60":19.43,"iv90":19.43,"iv120":19.43},
{"i":208,"d":"2024-03-27","o":154.86,"h":156.44,"l":154.86,"c":156.32,"v":8.7,"iv30":18.06,"iv60":18.96,"iv90":19.07,"iv120":18.96},
{"i":209,"d":"2024-03-28","o":157,"h":158.12,"l":156.32,"c":157.79,"v":9.5,"iv30":17.85,"iv60":18.7,"iv90":18.74,"iv120":18.79},
{"i":210,"d":"2024-04-01","o":158.35,"h":159.47,"l":157,"c":159.13,"v":6.5,"iv30":19.07,"iv60":19.28,"iv90":19.28,"iv120":19.17},
{"i":211,"d":"2024-04-02","o":160.03,"h":161.04,"l":158.9,"c":159.69,"v":9.5,"iv30":19.56,"iv60":19.56,"iv90":19.54,"iv120":19.6},
{"i":212,"d":"2024-04-03","o":160.48,"h":160.82,"l":159.69,"c":160.37,"v":8.4,"iv30":19.71,"iv60":19.81,"iv90":19.77,"iv120":19.86},
{"i":213,"d":"2024-04-04","o":160.82,"h":161.94,"l":159.69,"c":160.59,"v":10.3,"iv30":20.78,"iv60":20.35,"iv90":20.35,"iv120":20.5},
{"i":214,"d":"2024-04-05","o":161.04,"h":162.05,"l":159.8,"c":161.6,"v":8.4,"iv30":20.5,"iv60":20.14,"iv90":20.24,"iv120":20.35},
{"i":215,"d":"2024-04-08","o":161.6,"h":162.5,"l":160.37,"c":161.16,"v":7.6,"iv30":20.56,"iv60":19.86,"iv90":19.99,"iv120":20.14},
{"i":216,"d":"2024-04-09","o":161.6,"h":162.5,"l":160.37,"c":161.94,"v":7.6,"iv30":20.03,"iv60":19.56,"iv90":19.65,"iv120":19.86},
{"i":217,"d":"2024-04-10","o":162.16,"h":162.84,"l":160.93,"c":162.73,"v":8.7,"iv30":20.67,"iv60":20.14,"iv90":20.14,"iv120":20.29},
{"i":218,"d":"2024-04-11","o":163.62,"h":163.62,"l":159.8,"c":161.83,"v":8.7,"iv30":20.29,"iv60":19.92,"iv90":19.92,"iv120":20.14},
{"i":219,"d":"2024-04-12","o":162.39,"h":163.85,"l":158.01,"c":158.79,"v":11.1,"iv30":23.13,"iv60":22.38,"iv90":22.06,"iv120":22.06},
{"i":220,"d":"2024-04-15","o":160.03,"h":160.37,"l":157.34,"c":157.45,"v":7.6,"iv30":23.23,"iv60":22.27,"iv90":21.85,"iv120":21.91},
{"i":221,"d":"2024-04-16","o":157.34,"h":157.67,"l":155.31,"c":156.21,"v":5.7,"iv30":23.3,"iv60":22.16,"iv90":21.57,"iv120":21.74},
{"i":222,"d":"2024-04-17","o":155.87,"h":157.56,"l":155.54,"c":156.44,"v":7.6,"iv30":22.7,"iv60":21.91,"iv90":21.42,"iv120":21.63},
{"i":223,"d":"2024-04-18","o":157.1,"h":158.01,"l":155.98,"c":157.56,"v":5.5,"iv30":22.53,"iv60":21.7,"iv90":21.46,"iv120":21.7},
{"i":224,"d":"2024-04-19","o":158.46,"h":160.7,"l":158.23,"c":160.03,"v":8.4,"iv30":23.17,"iv60":21.85,"iv90":21.63,"iv120":21.91},
{"i":225,"d":"2024-04-22","o":159.69,"h":162.61,"l":158.23,"c":161.94,"v":6.5,"iv30":22.38,"iv60":20.99,"iv90":20.67,"iv120":20.88},
{"i":226,"d":"2024-04-23","o":161.16,"h":162.84,"l":160.48,"c":162.84,"v":6.5,"iv30":21.57,"iv60":20.56,"iv90":20.2,"iv120":20.71},
{"i":227,"d":"2024-04-24","o":161.94,"h":163.85,"l":161.38,"c":163.74,"v":8.4,"iv30":21.52,"iv60":20.35,"iv90":20.03,"iv120":20.56},
{"i":228,"d":"2024-04-25","o":163.62,"h":165.53,"l":162.72,"c":165.3,"v":10.3,"iv30":21.38,"iv60":20.24,"iv90":19.99,"iv120":20.45},
{"i":229,"d":"2024-04-26","o":165.2,"h":167,"l":163.29,"c":165.87,"v":10.3,"iv30":19.38,"iv60":19.28,"iv90":19.56,"iv120":20.14},
{"i":230,"d":"2024-04-29","o":165.76,"h":167.1,"l":164.75,"c":166.43,"v":6.5,"iv30":18.68,"iv60":18.74,"iv90":19.07,"iv120":19.81},
{"i":231,"d":"2024-04-30","o":166.21,"h":166.21,"l":160.82,"c":160.93,"v":9.2,"iv30":19.38,"iv60":19.38,"iv90":19.6,"iv120":20.2},
{"i":232,"d":"2024-05-01","o":160.82,"h":161.38,"l":158.79,"c":159.69,"v":8.4,"iv30":19.38,"iv60":19.43,"iv90":19.71,"iv120":20.29},
{"i":233,"d":"2024-05-02","o":159.92,"h":161.83,"l":159.8,"c":160.7,"v":9.5,"iv30":18.7,"iv60":19.07,"iv90":19.38,"iv120":20.14},
{"i":234,"d":"2024-05-03","o":160.59,"h":160.59,"l":157.1,"c":160.14,"v":11.9,"iv30":18.43,"iv60":18.7,"iv90":19.07,"iv120":19.92},
{"i":235,"d":"2024-05-06","o":160.7,"h":163.96,"l":160.59,"c":162.28,"v":9.5,"iv30":18.49,"iv60":18.43,"iv90":18.85,"iv120":19.5},
{"i":236,"d":"2024-05-07","o":162.61,"h":163.18,"l":162.05,"c":162.5,"v":7.6,"iv30":17.57,"iv60":17.79,"iv90":18.28,"iv120":18.96},
{"i":237,"d":"2024-05-08","o":162.05,"h":162.95,"l":161.49,"c":162.61,"v":7.6,"iv30":17.21,"iv60":17.46,"iv90":18,"iv120":18.64},
{"i":238,"d":"2024-05-09","o":162.95,"h":165.53,"l":162.72,"c":165.42,"v":7.6,"iv30":16.61,"iv60":16.99,"iv90":17.57,"iv120":18.43},
{"i":239,"d":"2024-05-10","o":166.21,"h":166.32,"l":164.41,"c":165.87,"v":5.7,"iv30":15.86,"iv60":16.5,"iv90":17.14,"iv120":18.06},
{"i":240,"d":"2024-05-13","o":166.55,"h":166.77,"l":162.95,"c":164.52,"v":7.6,"iv30":16.89,"iv60":17.08,"iv90":17.72,"iv120":18.47},
{"i":241,"d":"2024-05-14","o":164.97,"h":165.2,"l":162.95,"c":163.51,"v":5.7,"iv30":16.82,"iv60":16.93,"iv90":17.64,"iv120":18.36},
{"i":242,"d":"2024-05-15","o":163.51,"h":163.85,"l":160.14,"c":162.95,"v":8.4,"iv30":16.39,"iv60":16.61,"iv90":17.36,"iv120":18.17},
{"i":243,"d":"2024-05-16","o":161.6,"h":161.83,"l":160.37,"c":160.93,"v":6.5,"iv30":16.65,"iv60":16.72,"iv90":18.06,"iv120":18.32},
{"i":244,"d":"2024-05-17","o":162.05,"h":162.95,"l":161.04,"c":162.72,"v":5.5,"iv30":15.93,"iv60":16.14,"iv90":17.29,"iv120":17.89},
{"i":245,"d":"2024-05-20","o":162.84,"h":162.95,"l":160.93,"c":161.04,"v":5.7,"iv30":16.01,"iv60":16.35,"iv90":17.72,"iv120":17.85},
{"i":246,"d":"2024-05-21","o":160.48,"h":161.27,"l":159.58,"c":159.92,"v":5.7,"iv30":15.97,"iv60":16.29,"iv90":17.62,"iv120":17.79},
{"i":247,"d":"2024-05-22","o":159.69,"h":159.69,"l":156.44,"c":157.56,"v":6.5,"iv30":17.03,"iv60":17.03,"iv90":18.1,"iv120":18.21},
{"i":248,"d":"2024-05-23","o":157.9,"h":157.9,"l":156.21,"c":156.77,"v":7.4,"iv30":17.21,"iv60":17.29,"iv90":18.47,"iv120":18.53},
{"i":249,"d":"2024-05-24","o":157.79,"h":158.9,"l":157.22,"c":157.67,"v":4.7,"iv30":16.35,"iv60":16.87,"iv90":18.1,"iv120":18.21},
{"i":250,"d":"2024-05-28","o":158.01,"h":159.35,"l":157.79,"c":158.9,"v":7.4,"iv30":17.68,"iv60":17.79,"iv90":18.53,"iv120":18.53},
{"i":251,"d":"2024-05-29","o":158.57,"h":158.57,"l":156.32,"c":156.88,"v":6.5,"iv30":18.06,"iv60":18.06,"iv90":18.79,"iv120":18.79},
{"i":252,"d":"2024-05-30","o":156.97,"h":158.46,"l":156.81,"c":158.26,"v":6.4,"iv30":18.46,"iv60":18.39,"iv90":18.96,"iv120":18.99}
],
"sma50":[{"i":0,"p":161.94},{"i":2,"p":161.75},{"i":7,"p":161.75},{"i":10,"p":161.6},{"i":15,"p":160.51},{"i":20,"p":158.65},{"i":25,"p":157.14},{"i":28,"p":156.32},{"i":32,"p":155.79},{"i":35,"p":155.65},{"i":41,"p":156.21},{"i":48,"p":156.85},{"i":52,"p":157.67},{"i":58,"p":157.86},{"i":64,"p":158.01},{"i":66,"p":158.46},{"i":70,"p":159.58},{"i":76,"p":160.82},{"i":79,"p":161.38},{"i":84,"p":162.73},{"i":86,"p":163.21},{"i":89,"p":163.32},{"i":93,"p":163.59},{"i":97,"p":163.96},{"i":100,"p":164.49},{"i":104,"p":164.07},{"i":108,"p":162.87},{"i":111,"p":162.31},{"i":115,"p":160.96},{"i":120,"p":158.57},{"i":130,"p":154.33},{"i":134,"p":152.28},{"i":137,"p":150.7},{"i":143,"p":149.1},{"i":146,"p":148.46},{"i":150,"p":146.96},{"i":154,"p":146.29},{"i":158,"p":146.29},{"i":162,"p":145.91},{"i":165,"p":146.06},{"i":170,"p":146.58},{"i":177,"p":147.59},{"i":180,"p":148.09},{"i":187,"p":149.66},{"i":193,"p":149.73},{"i":197,"p":149.66},{"i":203,"p":150.26},{"i":208,"p":151.34},{"i":214,"p":153.4},{"i":218,"p":154.71},{"i":225,"p":155.46},{"i":230,"p":156.77},{"i":236,"p":157.41},{"i":240,"p":158.46},{"i":246,"p":160.06},{"i":252,"p":160.3}],
"sma200":[{"i":0,"p":166.81},{"i":18,"p":166.47},{"i":27,"p":166.32},{"i":34,"p":166.77},{"i":43,"p":166.88},{"i":49,"p":166.77},{"i":55,"p":166.32},{"i":65,"p":165.12},{"i":72,"p":164.52},{"i":79,"p":163.88},{"i":84,"p":163.85},{"i":93,"p":163.59},{"i":100,"p":163.21},{"i":104,"p":162.76},{"i":109,"p":162.02},{"i":115,"p":160.82},{"i":119,"p":160.22},{"i":128,"p":159.02},{"i":137,"p":158.2},{"i":144,"p":157.75},{"i":151,"p":157.59},{"i":157,"p":157.22},{"i":163,"p":156.47},{"i":177,"p":155.2},{"i":180,"p":154.97},{"i":190,"p":154.71},{"i":200,"p":154.6},{"i":212,"p":154.64},{"i":220,"p":154.9},{"i":233,"p":155.31},{"i":241,"p":155.42},{"i":252,"p":155.38}]
},
"encoding":{"x":{"field":"i","type":"quantitative","scale":{"domain":[-0.95,257.4],"range":[40,1320],"nice":false,"zero":false,"padding":0},
"axis":{"orient":"top","offset":-43,"values":[2,23,43,66,86,108,129,149,170,190,210,232],"labelExpr":"{'2':'Jun','23':'Jul 2023','43':'Aug','66':'Sep','86':'Oct 2023','108':'Nov','129':'Dec','149':'2024','170':'Feb','190':'Mar','210':'Apr 2024','232':'May'}[datum.value]","domainColor":"#a8a8a8","domainWidth":2,"tickColor":"#a8a8a8","tickWidth":1.5,"tickSize":6,"labelColor":"#eeeeee","labelFontSize":13,"labelPadding":4,"labelOverlap":false,"labelBound":false,"labelFlush":false}}},
"layer":[
{"resolve":{"axis":{"y":"independent"}},"layer":[
{"data":{"values":[{"i":-10,"i1":280,"p":178.2,"p1":176.55}]},"mark":{"type":"rect","color":"#1f1f1f"},"encoding":{"x2":{"field":"i1"},"y":{"field":"p","type":"quantitative","scale":{"domain":[140,172],"range":[339.5,54.5],"nice":false,"zero":false},"axis":{"orient":"right","offset":-77,"values":[140,142,144,146,148,150,152,154,156,158,160,162,164,166,168,170,172],"format":".2f","domain":false,"tickColor":"#bbbbbb","tickWidth":2,"tickSize":6,"labelPadding":7,"labelColor":"#e2e2e2","labelFontSize":12,"labelFontWeight":"bold","labelOverlap":false,"labelBound":false,"labelFlush":false}},"y2":{"field":"p1"}}},
{"data":{"values":[{"i":271.3,"i1":273,"p":178.2,"p1":108}]},"mark":{"type":"rect","color":"#1b1b1b"},"encoding":{"x2":{"field":"i1"},"y":{"field":"p","type":"quantitative","axis":null},"y2":{"field":"p1"}}},
{"data":{"values":[{"i":-10,"i1":280,"p":176.5}]},"mark":{"type":"rule","color":"#666666","strokeWidth":1,"strokeDash":[3,3]},"encoding":{"x2":{"field":"i1"},"y":{"field":"p","type":"quantitative","axis":null}}},
{"data":{"values":[{"i":-0.95,"i1":43.9,"p":173.29},{"i":212.6,"i1":257.4,"p":173.29}]},"mark":{"type":"rule","color":"#ffffff","strokeWidth":2},"encoding":{"x2":{"field":"i1"},"y":{"field":"p","type":"quantitative","axis":null}}},
{"mark":{"type":"rule","strokeWidth":1},"encoding":{"y":{"field":"h","type":"quantitative","axis":null},"y2":{"field":"l"},"color":{"condition":{"test":"datum.c<datum.o","value":"#d40000"},"value":"#cfcfcf"}}},
{"mark":{"type":"bar","size":3.4,"cornerRadius":0},"encoding":{"y":{"field":"o","type":"quantitative","axis":null},"y2":{"field":"c"},"color":{"condition":{"test":"datum.c<datum.o","value":"#f00000"},"value":"#f2f2f2"}}},
{"data":{"name":"sma200"},"mark":{"type":"line","color":"#8a9bd4","strokeWidth":1.3,"interpolate":"monotone"},"encoding":{"y":{"field":"p","type":"quantitative","axis":null}}},
{"data":{"name":"sma50"},"mark":{"type":"line","color":"#c00000","strokeWidth":1.3,"interpolate":"monotone"},"encoding":{"y":{"field":"p","type":"quantitative","axis":null}}}
]},
{"layer":[
{"mark":{"type":"bar","size":3.8},"encoding":{"y":{"field":"v","type":"quantitative","scale":{"domain":[2.8,30],"range":[400.7,366.7],"nice":false,"zero":false},"axis":{"orient":"right","offset":-77,"values":[10,20,30],"labelExpr":"format(datum.value,'.1f')+'m'","domain":false,"tickColor":"#bbbbbb","tickWidth":2,"tickSize":6,"labelPadding":7,"labelColor":"#e2e2e2","labelFontSize":12,"labelFontWeight":"bold","labelOverlap":false,"labelBound":false,"labelFlush":false}},"y2":{"datum":2.8},"color":{"condition":{"test":"datum.c<datum.o","value":"#e60000"},"value":"#e4e4e4"}}}
]},
{"resolve":{"axis":{"y":"independent"}},"layer":[
{"mark":{"type":"line","color":"#ff0000","strokeWidth":1.3},"encoding":{"y":{"field":"iv30","type":"quantitative","scale":{"domain":[16,26],"range":[589.5,433.5],"nice":false,"zero":false},"axis":{"orient":"right","offset":-77,"values":[16,17,18,19,20,21,22,23,24,25,26],"format":".2f","domain":false,"tickColor":"#bbbbbb","tickWidth":2,"tickSize":6,"labelPadding":7,"labelColor":"#e2e2e2","labelFontSize":12,"labelFontWeight":"bold","labelOverlap":false,"labelBound":false,"labelFlush":false}}}},
{"mark":{"type":"line","color":"#d4d400","strokeWidth":1.3},"encoding":{"y":{"field":"iv60","type":"quantitative","axis":null}}},
{"mark":{"type":"line","color":"#22cc22","strokeWidth":1.3},"encoding":{"y":{"field":"iv90","type":"quantitative","axis":null}}},
{"mark":{"type":"line","color":"#2e8b57","strokeWidth":1.3},"encoding":{"y":{"field":"iv120","type":"quantitative","axis":null}}}
]},
{"resolve":{"axis":{"y":"independent"}},"layer":[
{"data":{"values":[{"i":-0.95,"p":171.16,"p1":167.82,"t":"SMA 50 key"},{"i":14.9,"p":171.16,"p1":167.82,"t":"SMA 200 key"},{"i":-0.95,"p":129.8,"p1":126.49,"t":"IV30 key"},{"i":19.5,"p":129.8,"p1":126.49,"t":"IV60 key"},{"i":39.9,"p":129.8,"p1":126.49,"t":"IV90 key"},{"i":60.3,"p":129.8,"p1":126.49,"t":"IV120 key"}]},"mark":{"type":"rule","strokeWidth":4.5},"encoding":{"y":{"field":"p","type":"quantitative","scale":{"domain":[140,172],"range":[339.5,54.5],"nice":false,"zero":false},"axis":null},"y2":{"field":"p1"},"color":{"field":"t","type":"nominal","legend":null,"scale":{"domain":["SMA 50 key","SMA 200 key","IV30 key","IV60 key","IV90 key","IV120 key","CVX_IV30","CVX_IV60","CVX_IV90","CVX_IV120","160.30 tag","158.26 tag","155.38 tag","151.70 tag"],"range":["#d00000","#8496cc","#ff0000","#cccc00","#22cc22","#2f8f5f","#c80000","#cccc00","#22cc22","#2d7a55","#cc0000","#ffffff","#8496cc","#ffffff"]}}}},
{"data":{"values":[{"i":258.8,"i1":269.1,"p":161.27,"p1":159.29,"t":"160.30 tag"},{"i":258.8,"i1":269.1,"p":159.21,"p1":157.25,"t":"158.26 tag"},{"i":258.8,"i1":269.1,"p":156.32,"p1":154.33,"t":"155.38 tag"},{"i":-20,"i1":-2.36,"p":152.73,"p1":150.67,"t":"151.70 tag"}]},"mark":{"type":"rect"},"encoding":{"x2":{"field":"i1"},"y":{"field":"p","type":"quantitative","axis":null},"y2":{"field":"p1"},"color":{"field":"t","type":"nominal","legend":null}}},
{"data":{"values":[{"i":258.8,"p":160.28,"t":"160.30 tag"},{"i":258.8,"p":158.23,"t":"158.26 tag"},{"i":258.8,"p":155.33,"t":"155.38 tag"}]},"mark":{"type":"point","filled":true,"opacity":1,"size":4,"strokeWidth":0,"shape":"M-5.5,0L0.5,-8.9L0.5,8.9Z"},"encoding":{"y":{"field":"p","type":"quantitative","axis":null},"color":{"field":"t","type":"nominal","legend":null}}},
{"data":{"values":[{"i":-2.36,"p":151.7,"t":"151.70 tag"}]},"mark":{"type":"point","filled":true,"opacity":1,"size":4,"strokeWidth":0,"shape":"M6,0L-0.5,-9.1L-0.5,9.1Z"},"encoding":{"y":{"field":"p","type":"quantitative","axis":null},"color":{"field":"t","type":"nominal","legend":null}}},
{"data":{"values":[{"i":-0.85,"p":172.5,"t":"Date:"},{"i":19.23,"p":172.5,"t":"O:"},{"i":30.94,"p":172.5,"t":"H:"},{"i":42.44,"p":172.5,"t":"L:"},{"i":53.54,"p":172.5,"t":"C:"},{"i":65.04,"p":172.5,"t":"Vol:"},{"i":0.26,"p":170.48,"t":"SMA (50)"},{"i":16.2,"p":170.48,"t":"SMA (200)"},{"i":-0.75,"p":109.13,"t":"CVX_IV30 vs CVX_HV20:"}]},"mark":{"type":"text","align":"left","baseline":"middle","fontSize":12,"color":"#3d6f9f"},"encoding":{"y":{"field":"p","type":"quantitative","axis":null},"text":{"field":"t"}}},
{"data":{"values":[{"i":5.71,"p":172.5,"t":"2024-05-30"},{"i":22.66,"p":172.5,"t":"156.97"},{"i":34.17,"p":172.5,"t":"158.46"},{"i":45.27,"p":172.5,"t":"156.81"},{"i":56.77,"p":172.5,"t":"158.26"},{"i":69.89,"p":172.5,"t":"6.4m"},{"i":0.26,"p":168.57,"t":"160.30"},{"i":16.2,"p":168.57,"t":"155.38"},{"i":0.26,"p":127.22,"t":"18.46"},{"i":20.75,"p":127.22,"t":"18.39"},{"i":41.13,"p":127.22,"t":"18.96"},{"i":61.6,"p":127.22,"t":"18.99"},{"i":28.92,"p":109.13,"t":"18.46 - 14.65 = 3.81"},{"i":260,"p":160.28,"t":"160.30"},{"i":260,"p":155.33,"t":"155.38"}]},"mark":{"type":"text","align":"left","baseline":"middle","fontSize":12,"fontWeight":"bold","color":"#f0f0f0"},"encoding":{"y":{"field":"p","type":"quantitative","axis":null},"text":{"field":"t"}}},
{"data":{"values":[{"i":260,"p":158.23,"t":"158.26"},{"i":-11,"p":151.7,"t":"151.70"}]},"mark":{"type":"text","align":"left","baseline":"middle","fontSize":12,"color":"#333333"},"encoding":{"y":{"field":"p","type":"quantitative","axis":null},"text":{"field":"t"}}},
{"data":{"values":[{"i":0.26,"p":129.13,"t":"CVX_IV30"},{"i":20.75,"p":129.13,"t":"CVX_IV60"},{"i":41.13,"p":129.13,"t":"CVX_IV90"},{"i":61.6,"p":129.13,"t":"CVX_IV120"}]},"mark":{"type":"text","align":"left","baseline":"middle","fontSize":12},"encoding":{"y":{"field":"p","type":"quantitative","axis":null},"text":{"field":"t"},"color":{"field":"t","type":"nominal","legend":null}}},
{"data":{"values":[{"i":41,"p":162.6},{"i":105,"p":154.97},{"i":171,"p":157.05},{"i":229,"p":170.7}]},"mark":{"type":"point","filled":true,"opacity":1,"size":4,"strokeWidth":0,"shape":"M-6.7,-9H6.7Q8.7,-9,8.7,-7V7Q8.7,9,6.7,9H3L0,11.5L-3,9H-6.7Q-8.7,9,-8.7,7V-7Q-8.7,-9,-6.7,-9Z","fill":{"gradient":"linear","x1":0,"y1":0,"x2":0,"y2":1,"stops":[{"offset":0,"color":"#3cb6d4"},{"offset":1,"color":"#1c7896"}]}},"encoding":{"y":{"field":"p","type":"quantitative","axis":null}}},
{"data":{"values":[{"i":55,"p":168.46},{"i":119,"p":149.8},{"i":180,"p":161.38},{"i":243,"p":168.23}]},"mark":{"type":"point","filled":true,"opacity":1,"size":4,"strokeWidth":0,"shape":"M-6.7,-9H6.7Q8.7,-9,8.7,-7V7Q8.7,9,6.7,9H3L0,11.5L-3,9H-6.7Q-8.7,9,-8.7,7V-7Q-8.7,-9,-6.7,-9Z","fill":{"gradient":"linear","x1":0,"y1":0,"x2":0,"y2":1,"stops":[{"offset":0,"color":"#6aa52c"},{"offset":1,"color":"#4a7a1c"}]}},"encoding":{"y":{"field":"p","type":"quantitative","axis":null}}},
{"data":{"values":[{"i":41,"p":162.6,"t":"E"},{"i":105,"p":154.97,"t":"E"},{"i":171,"p":157.05,"t":"E"},{"i":229,"p":170.7,"t":"E"},{"i":55,"p":168.46,"t":"D"},{"i":119,"p":149.8,"t":"D"},{"i":180,"p":161.38,"t":"D"},{"i":243,"p":168.23,"t":"D"}]},"mark":{"type":"text","align":"center","baseline":"middle","fontSize":13,"fontWeight":"bold","font":"DejaVu Sans","color":"#ffffff"},"encoding":{"y":{"field":"p","type":"quantitative","axis":null},"text":{"field":"t"}}},
{"data":{"values":[{"i":253.55,"p":171.38},{"i":248.6,"p":130.09},{"i":253.6,"p":130.09}]},"mark":{"type":"point","filled":false,"opacity":1,"size":4,"strokeWidth":2,"color":"#555555","shape":"M-8.5,-11.5H8.5Q11.5,-11.5,11.5,-8.5V8.5Q11.5,11.5,8.5,11.5H-8.5Q-11.5,11.5,-11.5,8.5V-8.5Q-11.5,-11.5,-8.5,-11.5Z"},"encoding":{"y":{"field":"p","type":"quantitative","axis":null}}},
{"data":{"values":[{"i":253.55,"p":171.38},{"i":248.6,"p":130.09}]},"mark":{"type":"point","filled":false,"opacity":1,"size":4,"strokeWidth":1.6,"color":"#666666","shape":"M-6.5,6.5L-2,2M2,-2L6.5,-6.5M2,-6.5H6.5V-2M-6.5,2V6.5H-2"},"encoding":{"y":{"field":"p","type":"quantitative","axis":null}}},
{"data":{"values":[{"i":253.6,"p":130.09}]},"mark":{"type":"point","filled":false,"opacity":1,"size":4,"strokeWidth":2,"color":"#666666","shape":"M-6,-6L6,6M-6,6L6,-6"},"encoding":{"y":{"field":"p","type":"quantitative","axis":null}}},
{"data":{"values":[{"i":128.2,"p":138.5},{"i":128.2,"p":132.11},{"i":128.2,"p":108.79}]},"mark":{"type":"point","filled":false,"opacity":1,"size":4,"strokeWidth":1.2,"color":"#c8c8c8","shape":"M-6,-1.75H6M-6,1.75H6"},"encoding":{"y":{"field":"p","type":"quantitative","axis":null}}},
{"data":{"values":[{"i":128.2,"p":177.45}]},"mark":{"type":"point","filled":false,"opacity":1,"size":4,"strokeWidth":1.2,"color":"#e8e8e8","shape":"M-4.5,-1L0,-4.5L4.5,-1M-4.5,4L0,0.5L4.5,4"},"encoding":{"y":{"field":"p","type":"quantitative","axis":null}}}
]}
],
"resolve":{"scale":{"y":"independent"},"axis":{"y":"independent"}}}
